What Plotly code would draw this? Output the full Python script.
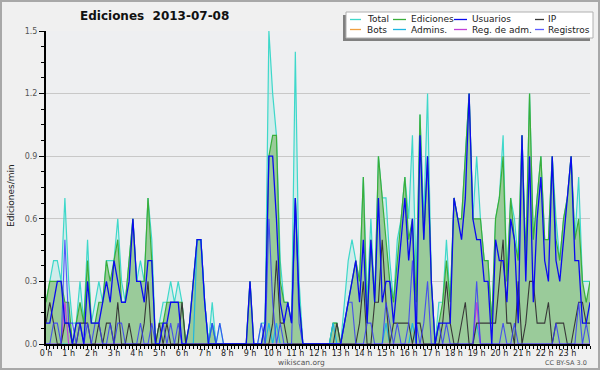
import plotly.graph_objects as go

# ---------------- data (edits per minute, 10-minute bins, 0h .. 24h) ----------------
HOUR_LABELS = ["%d h" % h for h in range(24)]
HOUR_TICKS = list(range(24))
Y_TICKS = [0.0, 0.3, 0.6, 0.9, 1.2, 1.5]
Y_TICK_TEXT = ["0.0", "0.3", "0.6", "0.9", "1.2", "1.5"]

total = [
    0.2, 0.3, 0.4, 0.4, 0.3, 0.7,   # 0h
    0.3, 0.1, 0.1, 0.3, 0.1, 0.5,   # 1h
    0.1, 0.2, 0.3, 0.2, 0.4, 0.4,   # 2h
    0.4, 0.6, 0.3, 0.2, 0.4, 0.6,   # 3h
    0.3, 0.4, 0.3, 0.7, 0.5, 0.0,   # 4h
    0.1, 0.2, 0.2, 0.3, 0.2, 0.3,   # 5h
    0.2, 0.0, 0.1, 0.3, 0.5, 0.5,   # 6h
    0.2, 0.0, 0.2, 0.0, 0.1, 0.0,   # 7h
    0.0, 0.0, 0.0, 0.0, 0.0, 0.0,   # 8h
    0.3, 0.0, 0.0, 0.1, 0.1, 1.5,   # 9h
    1.2, 1.0, 0.4, 0.2, 0.2, 0.1,   # 10h
    1.4, 0.3, 0.0, 0.0, 0.0, 0.0,   # 11h
    0.0, 0.0, 0.0, 0.0, 0.1, 0.1,   # 12h
    0.0, 0.2, 0.4, 0.5, 0.4, 0.3,   # 13h
    0.8, 0.2, 0.6, 0.2, 0.9, 0.7,   # 14h
    0.7, 0.4, 0.2, 0.5, 0.6, 0.8,   # 15h
    0.6, 1.0, 0.3, 1.1, 0.6, 1.2,   # 16h
    0.3, 0.0, 0.2, 0.2, 0.5, 0.2,   # 17h
    0.7, 0.6, 0.6, 0.9, 1.2, 0.6,   # 18h
    0.9, 0.6, 0.4, 0.4, 0.1, 0.6,   # 19h
    0.7, 1.0, 0.3, 0.7, 0.6, 0.4,   # 20h
    1.0, 0.4, 1.2, 0.5, 0.7, 0.9,   # 21h
    0.5, 0.5, 0.9, 0.6, 0.4, 0.6,   # 22h
    0.7, 0.9, 0.5, 0.8, 0.3, 0.3,   # 23h
    0.3,
]

ediciones = [
    0.2, 0.3, 0.3, 0.3, 0.3, 0.2,
    0.2, 0.0, 0.1, 0.2, 0.1, 0.4,
    0.1, 0.1, 0.2, 0.2, 0.4, 0.3,
    0.4, 0.5, 0.2, 0.2, 0.4, 0.6,
    0.3, 0.3, 0.3, 0.7, 0.4, 0.0,
    0.1, 0.1, 0.2, 0.2, 0.2, 0.2,
    0.2, 0.0, 0.1, 0.3, 0.5, 0.5,
    0.2, 0.0, 0.1, 0.0, 0.0, 0.0,
    0.0, 0.0, 0.0, 0.0, 0.0, 0.0,
    0.3, 0.0, 0.0, 0.0, 0.1, 0.9,
    1.0, 1.0, 0.3, 0.2, 0.2, 0.1,
    0.7, 0.2, 0.0, 0.0, 0.0, 0.0,
    0.0, 0.0, 0.0, 0.0, 0.1, 0.1,
    0.0, 0.1, 0.2, 0.3, 0.4, 0.3,
    0.8, 0.1, 0.5, 0.2, 0.9, 0.7,
    0.5, 0.3, 0.2, 0.4, 0.6, 0.8,
    0.5, 0.6, 0.2, 1.1, 0.5, 0.9,
    0.3, 0.0, 0.1, 0.2, 0.4, 0.2,
    0.7, 0.6, 0.6, 0.9, 1.2, 0.6,
    0.6, 0.6, 0.4, 0.4, 0.1, 0.6,
    0.7, 0.9, 0.3, 0.7, 0.5, 0.4,
    1.0, 0.4, 1.2, 0.5, 0.7, 0.9,
    0.5, 0.5, 0.9, 0.5, 0.4, 0.6,
    0.7, 0.9, 0.5, 0.6, 0.3, 0.2,
    0.3,
]

usuarios = [
    0.1, 0.1, 0.2, 0.3, 0.3, 0.1,
    0.1, 0.0, 0.1, 0.1, 0.0, 0.3,
    0.1, 0.1, 0.1, 0.2, 0.3, 0.2,
    0.4, 0.3, 0.2, 0.2, 0.3, 0.6,
    0.3, 0.3, 0.2, 0.4, 0.4, 0.0,
    0.0, 0.1, 0.1, 0.2, 0.2, 0.2,
    0.0, 0.0, 0.1, 0.3, 0.5, 0.5,
    0.2, 0.0, 0.0, 0.0, 0.0, 0.0,
    0.0, 0.0, 0.0, 0.0, 0.0, 0.0,
    0.3, 0.0, 0.0, 0.0, 0.1, 0.9,
    0.9, 0.6, 0.2, 0.1, 0.2, 0.1,
    0.7, 0.2, 0.0, 0.0, 0.0, 0.0,
    0.0, 0.0, 0.0, 0.0, 0.0, 0.0,
    0.0, 0.1, 0.2, 0.3, 0.4, 0.2,
    0.5, 0.1, 0.5, 0.2, 0.7, 0.2,
    0.3, 0.3, 0.1, 0.3, 0.5, 0.7,
    0.4, 0.6, 0.0, 1.0, 0.5, 0.9,
    0.3, 0.0, 0.1, 0.1, 0.1, 0.1,
    0.7, 0.6, 0.5, 0.7, 1.2, 0.6,
    0.5, 0.5, 0.3, 0.3, 0.0, 0.5,
    0.4, 0.4, 0.2, 0.6, 0.5, 0.1,
    1.0, 0.3, 0.9, 0.2, 0.6, 0.8,
    0.4, 0.3, 0.9, 0.4, 0.3, 0.5,
    0.7, 0.9, 0.4, 0.4, 0.1, 0.1,
    0.2,
]

ip = [
    0.1, 0.2, 0.1, 0.0, 0.0, 0.1,
    0.1, 0.0, 0.0, 0.1, 0.1, 0.1,
    0.0, 0.0, 0.1, 0.0, 0.1, 0.1,
    0.0, 0.2, 0.0, 0.0, 0.1, 0.0,
    0.0, 0.0, 0.1, 0.3, 0.0, 0.0,
    0.1, 0.0, 0.1, 0.0, 0.0, 0.0,
    0.2, 0.0, 0.0, 0.0, 0.0, 0.0,
    0.0, 0.0, 0.0, 0.0, 0.0, 0.0,
    0.0, 0.0, 0.0, 0.0, 0.0, 0.0,
    0.0, 0.0, 0.0, 0.0, 0.0, 0.0,
    0.1, 0.4, 0.1, 0.1, 0.0, 0.0,
    0.0, 0.0, 0.0, 0.0, 0.0, 0.0,
    0.0, 0.0, 0.0, 0.0, 0.0, 0.1,
    0.0, 0.0, 0.0, 0.0, 0.0, 0.1,
    0.3, 0.0, 0.0, 0.2, 0.2, 0.5,
    0.2, 0.0, 0.1, 0.1, 0.1, 0.1,
    0.1, 0.0, 0.1, 0.1, 0.0, 0.0,
    0.0, 0.0, 0.0, 0.1, 0.3, 0.1,
    0.0, 0.0, 0.1, 0.2, 0.0, 0.0,
    0.1, 0.1, 0.1, 0.1, 0.1, 0.1,
    0.3, 0.5, 0.1, 0.1, 0.0, 0.3,
    0.0, 0.1, 0.3, 0.3, 0.1, 0.1,
    0.1, 0.2, 0.0, 0.1, 0.1, 0.1,
    0.0, 0.0, 0.1, 0.2, 0.2, 0.1,
    0.1,
]

registros = [
    0.0, 0.0, 0.1, 0.1, 0.0, 0.5,
    0.1, 0.1, 0.0, 0.1, 0.0, 0.1,
    0.0, 0.1, 0.1, 0.0, 0.0, 0.1,
    0.0, 0.1, 0.1, 0.0, 0.0, 0.0,
    0.0, 0.1, 0.0, 0.0, 0.1, 0.0,
    0.0, 0.1, 0.0, 0.1, 0.0, 0.1,
    0.0, 0.0, 0.0, 0.0, 0.0, 0.0,
    0.0, 0.0, 0.1, 0.0, 0.1, 0.0,
    0.0, 0.0, 0.0, 0.0, 0.0, 0.0,
    0.0, 0.0, 0.0, 0.1, 0.0, 0.6,
    0.2, 0.0, 0.1, 0.0, 0.0, 0.0,
    0.7, 0.1, 0.0, 0.0, 0.0, 0.0,
    0.0, 0.0, 0.0, 0.0, 0.0, 0.0,
    0.0, 0.1, 0.2, 0.2, 0.0, 0.0,
    0.0, 0.1, 0.1, 0.0, 0.0, 0.0,
    0.2, 0.1, 0.0, 0.1, 0.0, 0.0,
    0.1, 0.4, 0.1, 0.0, 0.1, 0.3,
    0.0, 0.0, 0.1, 0.0, 0.1, 0.0,
    0.0, 0.0, 0.0, 0.0, 0.0, 0.0,
    0.3, 0.0, 0.0, 0.0, 0.0, 0.0,
    0.0, 0.1, 0.0, 0.0, 0.1, 0.0,
    0.0, 0.0, 0.0, 0.0, 0.0, 0.0,
    0.0, 0.0, 0.0, 0.1, 0.0, 0.0,
    0.0, 0.0, 0.0, 0.2, 0.0, 0.1,
    0.0,
]

admins = [
    0.0, 0.0, 0.0, 0.0, 0.0, 0.0,
    0.0, 0.0, 0.0, 0.0, 0.0, 0.0,
    0.0, 0.0, 0.0, 0.0, 0.0, 0.0,
    0.0, 0.0, 0.0, 0.0, 0.0, 0.0,
    0.0, 0.0, 0.0, 0.0, 0.0, 0.0,
    0.0, 0.0, 0.0, 0.0, 0.0, 0.0,
    0.0, 0.0, 0.0, 0.0, 0.5, 0.5,
    0.2, 0.0, 0.1, 0.0, 0.0, 0.0,
    0.0, 0.0, 0.0, 0.0, 0.0, 0.0,
    0.0, 0.0, 0.0, 0.0, 0.0, 0.1,
    0.0, 0.1, 0.0, 0.0, 0.0, 0.0,
    0.0, 0.0, 0.0, 0.0, 0.0, 0.0,
    0.0, 0.0, 0.0, 0.0, 0.1, 0.0,
    0.0, 0.0, 0.0, 0.0, 0.0, 0.0,
    0.0, 0.0, 0.0, 0.0, 0.0, 0.0,
    0.1, 0.0, 0.0, 0.0, 0.0, 0.0,
    0.0, 0.1, 0.0, 0.0, 0.0, 0.0,
    0.0, 0.0, 0.0, 0.0, 0.0, 0.0,
    0.0, 0.0, 0.0, 0.0, 0.0, 0.0,
    0.1, 0.0, 0.0, 0.0, 0.0, 0.0,
    0.0, 0.0, 0.0, 0.0, 0.0, 0.0,
    0.0, 0.0, 0.0, 0.0, 0.0, 0.0,
    0.0, 0.0, 0.0, 0.0, 0.0, 0.0,
    0.0, 0.0, 0.0, 0.0, 0.0, 0.0,
    0.0,
]

reg_adm = [0.0] * 5 + [0.2] + [0.0] * 108 + [0.2] + [0.0] * 30
bots = [0.0] * 145

time_h = [i / 6 for i in range(145)]   # 10-minute bins, in hours

# ---------------- styling ----------------
W, H = 600, 370
ML, MR, MT, MB = 46, 10, 31, 26
PW, PH = W - ML - MR, H - MT - MB
FONT = "DejaVu Sans"


def px(x):
    return (x - ML) / PW


def py(y):
    return (H - MB - y) / PH


SERIES = [
    # name, data, line colour, width, fill
    ("Bots", bots, "#f0a040", 1.0, None),
    ("Total", total, "#3ed8ca", 1.2, "rgba(64,224,208,0.16)"),
    ("Ediciones", ediciones, "#3aae3a", 1.2, "#9acb9a"),
    ("Admins.", admins, "#1fb6e0", 1.2, None),
    ("Reg. de adm.", reg_adm, "#c040d8", 1.2, None),
    ("IP", ip, "#383838", 1.1, None),
    ("Registros", registros, "rgba(50,50,255,0.8)", 1.1, None),
    ("Usuarios", usuarios, "#0a0af0", 1.3, None),
]
COLORS = {name: col for name, _, col, _, _ in SERIES}

fig = go.Figure()
for name, data, col, w, fill in SERIES:
    kw = {}
    if fill:
        kw = dict(fill="tozeroy", fillcolor=fill)
    fig.add_trace(go.Scatter(x=time_h, y=data, mode="lines", name=name,
                             line=dict(color=col, width=w), showlegend=False,
                             hoverinfo="skip", **kw))

fig.update_layout(
    width=W, height=H,
    margin=dict(l=ML, r=MR, t=MT, b=MB, pad=0),
    paper_bgcolor="#f0f0f0", plot_bgcolor="#eeeff1",
    font=dict(family=FONT, color="#222"),
    xaxis=dict(range=[0, 24], tickvals=HOUR_TICKS, ticktext=HOUR_LABELS,
               showgrid=False, zeroline=False, showline=True, linecolor="black",
               linewidth=2, ticks="outside", ticklen=4, tickcolor="black",
               tickfont=dict(size=8, color="#222"), ticklabelstandoff=-4,
               minor=dict(dtick=1 / 6, ticks="outside", ticklen=3,
                          tickcolor="black", showgrid=False)),
    yaxis=dict(range=[0, 1.5], tickvals=Y_TICKS, ticktext=Y_TICK_TEXT,
               showgrid=True, gridcolor="#c8c8c8", gridwidth=1, zeroline=False,
               showline=True, linecolor="black", linewidth=2, ticks="outside",
               ticklen=5, tickcolor="black", tickfont=dict(size=8, color="#555"),
               minor=dict(dtick=0.075, ticks="outside", ticklen=3,
                          tickcolor="black", showgrid=False)),
)

ann = []
ann.append(dict(x=px(154), y=py(16), xref="paper", yref="paper", showarrow=False,
                text="Ediciones\u00a0\u00a02013-07-08", xanchor="center", yanchor="middle",
                font=dict(family=FONT, size=12, color="#111", weight="bold")))
ann.append(dict(x=px(11), y=py(196), xref="paper", yref="paper", showarrow=False,
                text="Ediciones/min", textangle=-90, xanchor="center", yanchor="middle",
                font=dict(family=FONT, size=9, color="#222")))
ann.append(dict(x=px(301), y=py(362), xref="paper", yref="paper", showarrow=False,
                text="wikiscan.org", xanchor="center", yanchor="middle",
                font=dict(family=FONT, size=7.5, color="#555")))
ann.append(dict(x=px(589), y=py(363), xref="paper", yref="paper", showarrow=False,
                text="CC BY-SA 3.0", xanchor="right", yanchor="middle",
                font=dict(family=FONT, size=6.5, color="#555")))

shapes = []
# outer frame
shapes.append(dict(type="rect", xref="paper", yref="paper", x0=px(1), x1=px(599),
                   y0=py(1), y1=py(369), line=dict(color="#a8a8a8", width=2),
                   fillcolor="rgba(0,0,0,0)", layer="above"))
# legend box with shadow
shapes.append(dict(type="rect", xref="paper", yref="paper", x0=px(343), x1=px(590),
                   y0=py(15), y1=py(41), line=dict(width=0), fillcolor="#808080",
                   layer="above"))
shapes.append(dict(type="rect", xref="paper", yref="paper", x0=px(346), x1=px(593),
                   y0=py(12), y1=py(38), line=dict(color="#b0b0b0", width=1),
                   fillcolor="white", layer="above"))

LEGEND_ROWS = [["Total", "Ediciones", "Usuarios", "IP"],
               ["Bots", "Admins.", "Reg. de adm.", "Registros"]]
COL_LINE = [(350, 361), (393, 406), (454, 467), (535, 544)]
COL_TEXT = [365, 409, 470, 546]
ROW_Y = [19.5, 29.5]
for r, row in enumerate(LEGEND_ROWS):
    for c, name in enumerate(row):
        shapes.append(dict(type="line", xref="paper", yref="paper",
                           x0=px(COL_LINE[c][0]), x1=px(COL_LINE[c][1]),
                           y0=py(ROW_Y[r]), y1=py(ROW_Y[r]),
                           line=dict(color=COLORS[name], width=1.3), layer="above"))
        ann.append(dict(x=px(COL_TEXT[c]), y=py(ROW_Y[r]), xref="paper", yref="paper",
                        showarrow=False, text=name, xanchor="left", yanchor="middle",
                        font=dict(family=FONT, size=9, color="#222")))

fig.update_layout(annotations=ann, shapes=shapes)
fig.write_html("out.html", config={"displayModeBar": False},
               post_script="document.body.style.margin='0';document.body.style.overflow='hidden';")
